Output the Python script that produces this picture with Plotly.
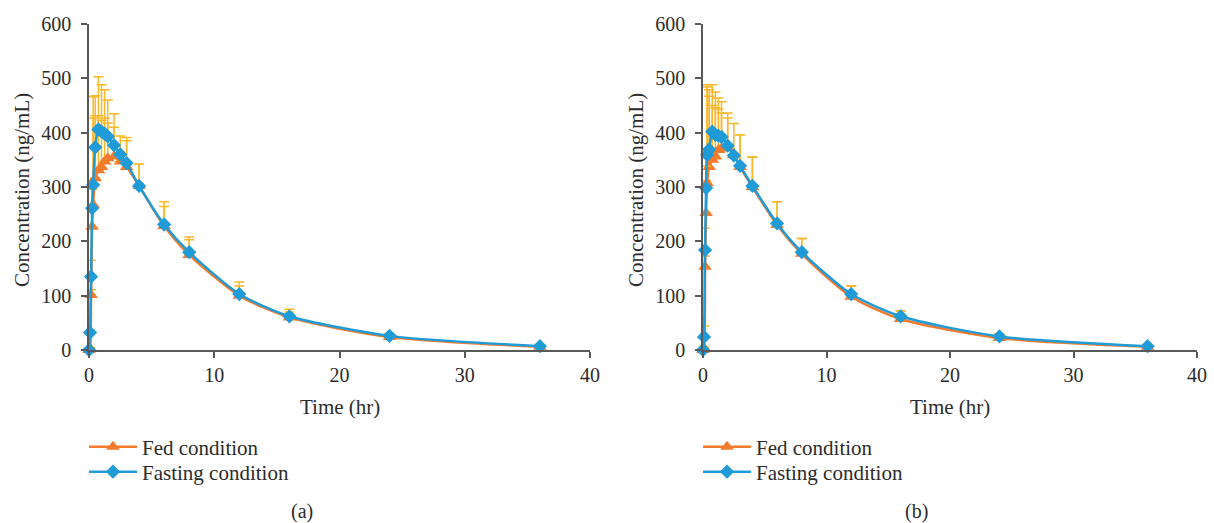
import plotly.graph_objects as go

# ---- data ----
time_hr = [0, 0.083, 0.167, 0.25, 0.333, 0.5, 0.75, 1, 1.25, 1.5, 2, 2.5, 3, 4, 6, 8, 12, 16, 24, 36]

fed_a = [0, 3, 101, 227, 267, 316, 331, 337, 347, 353, 356, 347, 337, 302, 228, 175, 100, 60, 24, 6]
fed_a_sd = [0, 2, 10, 70, 160, 115, 100, 86, 80, 65, 54, 47, 48, 40, 45, 28, 18, 10, 5, 2]
fast_a = [0, 32, 135, 261, 304, 373, 406, 402, 398, 393, 377, 360, 344, 302, 231, 180, 103, 62, 26, 7]
fast_a_sd = [0, 5, 30, 35, 162, 95, 97, 86, 81, 67, 58, 0, 47, 40, 33, 28, 22, 13, 5, 2]

fed_b = [0, 3, 153, 252, 307, 337, 350, 356, 368, 371, 372, 359, 337, 300, 230, 177, 98, 57, 22, 6]
fed_b_sd = [0, 2, 20, 60, 181, 130, 100, 90, 75, 65, 55, 58, 59, 55, 43, 28, 20, 15, 8, 2]
fast_b = [0, 24, 184, 298, 359, 369, 402, 396, 394, 392, 376, 358, 339, 302, 233, 180, 103, 62, 25, 7]
fast_b_sd = [0, 20, 40, 40, 125, 110, 86, 79, 70, 65, 60, 0, 57, 53, 40, 25, 15, 10, 5, 2]

x_ticks = [0, 10, 20, 30, 40]
y_ticks = [0, 100, 200, 300, 400, 500, 600]

ORANGE = "#F47B2B"
BLUE = "#1F9BD7"
GOLD = "#F9B72A"
AXIS = "#595959"
TXT = "#2b2b2b"
FONT = "Liberation Serif"

W, H = 1214, 523

fig = go.Figure()

def add_pair(xa, ya, leg_fed, leg_fast, fed, fed_sd, fast, fast_sd):
    fig.add_trace(go.Scatter(
        x=time_hr, y=fed, name="Fed condition", mode="lines+markers",
        xaxis=xa, yaxis=ya, legend=leg_fed, showlegend=True,
        line=dict(color=ORANGE, width=2.5, shape="spline", smoothing=0.7),
        marker=dict(symbol="triangle-up", size=12, color=ORANGE),
        error_y=dict(type="data", array=fed_sd, arrayminus=[0]*len(fed_sd), symmetric=False,
                     color=GOLD, thickness=1.5, width=5),
        cliponaxis=False))
    fig.add_trace(go.Scatter(
        x=time_hr, y=fast, name="Fasting condition", mode="lines+markers",
        xaxis=xa, yaxis=ya, legend=leg_fast, showlegend=True,
        line=dict(color=BLUE, width=2.5, shape="spline", smoothing=0.7),
        marker=dict(symbol="diamond", size=11, color=BLUE),
        error_y=dict(type="data", array=fast_sd, arrayminus=[0]*len(fast_sd), symmetric=False,
                     color=GOLD, thickness=1.5, width=5),
        cliponaxis=False))

add_pair("x", "y", "legend", "legend2", fed_a, fed_a_sd, fast_a, fast_a_sd)
add_pair("x2", "y2", "legend3", "legend4", fed_b, fed_b_sd, fast_b, fast_b_sd)

ytop = 1 - 24 / H
ybot = 1 - 350 / H

def xaxis_cfg(x0, x1, anchor):
    return dict(domain=[x0 / W, x1 / W], range=[0, 40], tickvals=x_ticks,
                ticktext=[str(v) for v in x_ticks], showline=True, linecolor=AXIS, linewidth=1.5,
                ticks="outside", ticklen=6, tickcolor=AXIS, tickwidth=1.5, showgrid=False,
                zeroline=False, anchor=anchor, tickfont=dict(family=FONT, size=20, color=TXT))

def yaxis_cfg(anchor):
    return dict(domain=[ybot, ytop], range=[0, 600], tickvals=y_ticks,
                ticktext=[str(v) for v in y_ticks], showline=True, linecolor=AXIS, linewidth=1.5,
                ticks="outside", ticklen=6, tickcolor=AXIS, tickwidth=1.5, showgrid=False,
                zeroline=False, anchor=anchor, ticklabelstandoff=6,
                tickfont=dict(family=FONT, size=20, color=TXT))

def leg(x, y):
    return dict(x=x / W, y=1 - y / H, font=dict(family=FONT, size=21, color=TXT),
                bgcolor="rgba(0,0,0,0)", xanchor="left", yanchor="middle",
                itemwidth=48, borderwidth=0)

def ann(text, x, y, size=21, angle=0):
    return dict(text=text, x=x / W, y=1 - y / H, xref="paper", yref="paper",
                xanchor="center", yanchor="middle", showarrow=False, textangle=angle,
                font=dict(family=FONT, size=size, color=TXT))

fig.update_layout(
    width=W, height=H,
    margin=dict(l=0, r=0, t=0, b=0, autoexpand=False),
    paper_bgcolor="white", plot_bgcolor="white",
    xaxis=xaxis_cfg(89, 590, "y"),
    yaxis=yaxis_cfg("x"),
    xaxis2=xaxis_cfg(703, 1197, "y2"),
    yaxis2=yaxis_cfg("x2"),
    legend=leg(84, 447),
    legend2=leg(84, 472),
    legend3=leg(698, 447),
    legend4=leg(698, 472),
    font=dict(family=FONT, color=TXT),
    annotations=[
        ann("Time (hr)", (89 + 590) / 2, 407),
        ann("Time (hr)", (703 + 1197) / 2, 407),
        ann("Concentration (ng/mL)", 22, 190, angle=-90),
        ann("Concentration (ng/mL)", 636, 190, angle=-90),
        ann("(a)", 302, 511, size=20),
        ann("(b)", 916, 511, size=20),
    ],
)

fig.write_html("out.html", post_script="document.body.style.margin='0';",
               config={"displayModeBar": False})
